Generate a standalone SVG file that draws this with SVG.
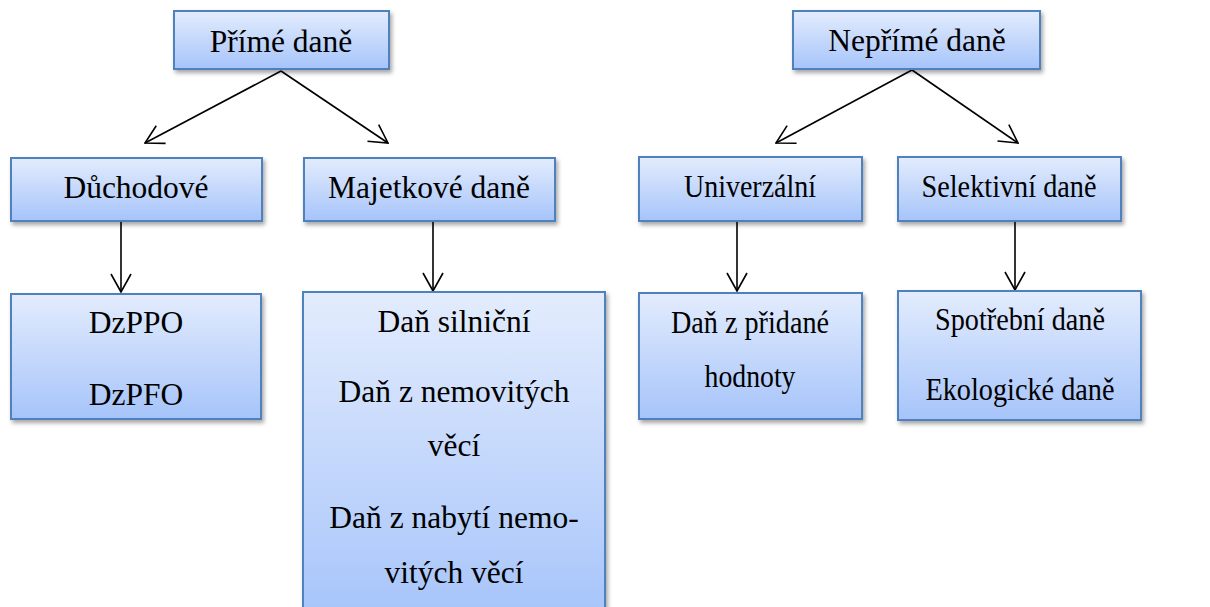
<svg xmlns="http://www.w3.org/2000/svg" width="1210" height="607" viewBox="0 0 1210 607">
<style>
.box{fill:url(#g);stroke:#4F81BD;stroke-width:2;filter:url(#sh)}
.t{font-family:"Liberation Serif","Times New Roman",serif;font-size:31.5px;fill:#000;text-anchor:middle}
.c{fill:none;stroke:#000;stroke-width:1.6;marker-end:url(#ah)}
</style>
<defs>
<linearGradient id="g" x1="0" y1="0" x2="0" y2="1">
<stop offset="0" stop-color="#E3ECFD"/>
<stop offset="1" stop-color="#A6C4FA"/>
</linearGradient>
<filter id="sh" x="-10%" y="-10%" width="120%" height="130%">
<feDropShadow dx="2" dy="3" stdDeviation="2" flood-color="#000" flood-opacity="0.35"/>
</filter>
<marker id="ah" markerUnits="userSpaceOnUse" markerWidth="20" markerHeight="22" viewBox="0 0 20 22" refX="19" refY="11" orient="auto">
<path d="M1,1 L19,11 L1,21" fill="none" stroke="#000" stroke-width="1.6"/>
</marker>
</defs>
<g id="connectors">
<line class="c" x1="281" y1="71" x2="145" y2="143"/>
<line class="c" x1="281" y1="71" x2="388" y2="143"/>
<line class="c" x1="912" y1="70" x2="776" y2="143"/>
<line class="c" x1="912" y1="70" x2="1018" y2="143"/>
<line class="c" x1="121" y1="221" x2="121" y2="292"/>
<line class="c" x1="433" y1="221" x2="433" y2="291"/>
<line class="c" x1="737" y1="221" x2="737" y2="291"/>
<line class="c" x1="1015" y1="221" x2="1015" y2="290"/>
</g>
<g id="prime">
<rect class="box" x="174" y="11" width="215" height="58"/>
<text class="t" x="281" y="52">Přímé daně</text>
</g>
<g id="neprime">
<rect class="box" x="793" y="11" width="247" height="58"/>
<text class="t" x="917" y="51">Nepřímé daně</text>
</g>
<g id="duchodove">
<rect class="box" x="11" y="158" width="251" height="63"/>
<text class="t" x="136" y="198">Důchodové</text>
</g>
<g id="majetkove">
<rect class="box" x="304" y="158" width="251" height="63"/>
<text class="t" x="429" y="198">Majetkové daně</text>
</g>
<g id="univerzalni">
<rect class="box" x="639" y="157" width="223" height="64"/>
<text class="t" x="750" y="197" textLength="132" lengthAdjust="spacingAndGlyphs">Univerzální</text>
</g>
<g id="selektivni">
<rect class="box" x="898" y="157" width="223" height="64"/>
<text class="t" x="1009" y="197" textLength="175" lengthAdjust="spacingAndGlyphs">Selektivní daně</text>
</g>
<g id="dz">
<rect class="box" x="11" y="294" width="250" height="125"/>
<text class="t" x="136" y="333">DzPPO</text>
<text class="t" x="136" y="405">DzPFO</text>
</g>
<g id="majetkove-list">
<rect class="box" x="303" y="292" width="302" height="330"/>
<text class="t" x="454" y="332">Daň silniční</text>
<text class="t" x="454" y="402">Daň z nemovitých</text>
<text class="t" x="454" y="456">věcí</text>
<text class="t" x="454" y="528">Daň z nabytí nemo-</text>
<text class="t" x="454" y="583">vitých věcí</text>
</g>
<g id="dph">
<rect class="box" x="639" y="293" width="223" height="126"/>
<text class="t" x="750" y="333" textLength="158" lengthAdjust="spacingAndGlyphs">Daň z přidané</text>
<text class="t" x="750" y="387" textLength="91" lengthAdjust="spacingAndGlyphs">hodnoty</text>
</g>
<g id="spotrebni">
<rect class="box" x="898" y="291" width="243" height="129"/>
<text class="t" x="1020" y="330" textLength="170" lengthAdjust="spacingAndGlyphs">Spotřební daně</text>
<text class="t" x="1020" y="400" textLength="189" lengthAdjust="spacingAndGlyphs">Ekologické daně</text>
</g>
</svg>
